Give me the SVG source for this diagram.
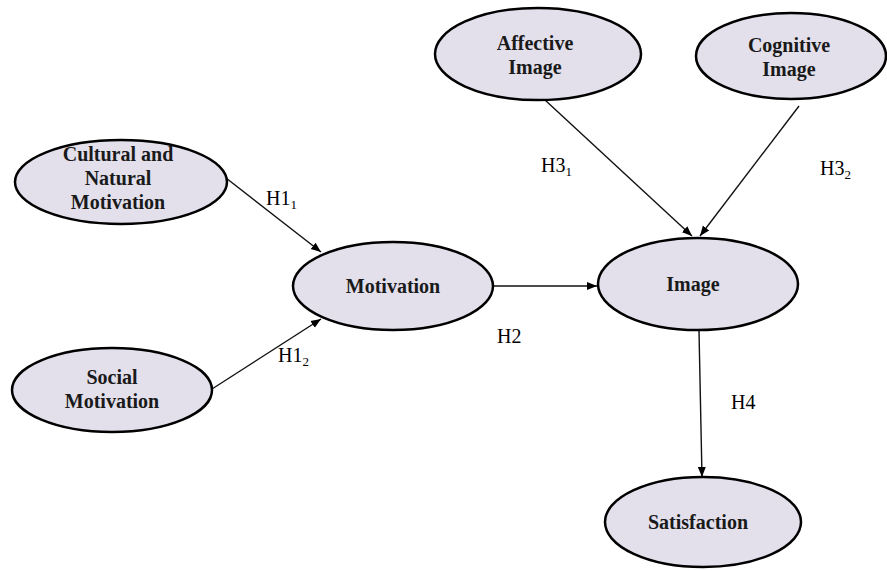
<svg xmlns="http://www.w3.org/2000/svg" width="887" height="571" viewBox="0 0 887 571">
<defs>
<style>
.n ellipse{fill:#e3e0ec;stroke:#000;stroke-width:2.5}
.n text{font-family:"Liberation Serif","DejaVu Serif",serif;font-weight:bold;font-size:20px;fill:#1a1a1a;text-anchor:middle}
.c line{stroke:#111;stroke-width:1.4;marker-end:url(#ah)}
.lbl{font-family:"Liberation Serif","DejaVu Serif",serif;font-size:20px;fill:#000}
.sub{font-size:13px}
</style>
<marker id="ah" viewBox="0 0 10 10" refX="10" refY="5" markerWidth="10" markerHeight="10" markerUnits="userSpaceOnUse" orient="auto">
<path d="M0,1 L10,5 L0,9 Z" fill="#000"/>
</marker>
</defs>
<rect width="887" height="571" fill="#fff"/>
<g class="c" id="connectors">
<line x1="226" y1="178" x2="321" y2="252"/>
<line x1="212" y1="389" x2="321" y2="319"/>
<line x1="493" y1="286" x2="597" y2="286"/>
<line x1="545" y1="100" x2="692" y2="236"/>
<line x1="799" y1="106" x2="700" y2="236"/>
<line x1="699" y1="331" x2="702" y2="477"/>
</g>
<g id="n-cultural" class="n"><ellipse cx="121" cy="182" rx="106" ry="42"/>
<text x="118" y="161">Cultural and</text><text x="118" y="185">Natural</text><text x="118" y="209">Motivation</text></g>
<g id="n-social" class="n"><ellipse cx="112" cy="390" rx="100" ry="42"/>
<text x="112" y="384">Social</text><text x="112" y="408">Motivation</text></g>
<g id="n-motivation" class="n"><ellipse cx="393" cy="286" rx="100" ry="44"/>
<text x="393" y="293">Motivation</text></g>
<g id="n-affective" class="n"><ellipse cx="538" cy="54" rx="103" ry="46"/>
<text x="535" y="50">Affective</text><text x="535" y="74">Image</text></g>
<g id="n-cognitive" class="n"><ellipse cx="791" cy="56" rx="95" ry="43"/>
<text x="789" y="52">Cognitive</text><text x="789" y="76">Image</text></g>
<g id="n-image" class="n"><ellipse cx="698" cy="284" rx="100" ry="46"/>
<text x="693" y="291">Image</text></g>
<g id="n-satisfaction" class="n"><ellipse cx="703" cy="522" rx="98" ry="45"/>
<text x="698" y="529">Satisfaction</text></g>
<g id="labels">
<text class="lbl" x="266" y="205">H1<tspan class="sub" dy="4">1</tspan></text>
<text class="lbl" x="278" y="362">H1<tspan class="sub" dy="4">2</tspan></text>
<text class="lbl" x="497" y="343">H2</text>
<text class="lbl" x="541" y="172">H3<tspan class="sub" dy="4">1</tspan></text>
<text class="lbl" x="820" y="175">H3<tspan class="sub" dy="4">2</tspan></text>
<text class="lbl" x="731" y="409">H4</text>
</g>
</svg>
